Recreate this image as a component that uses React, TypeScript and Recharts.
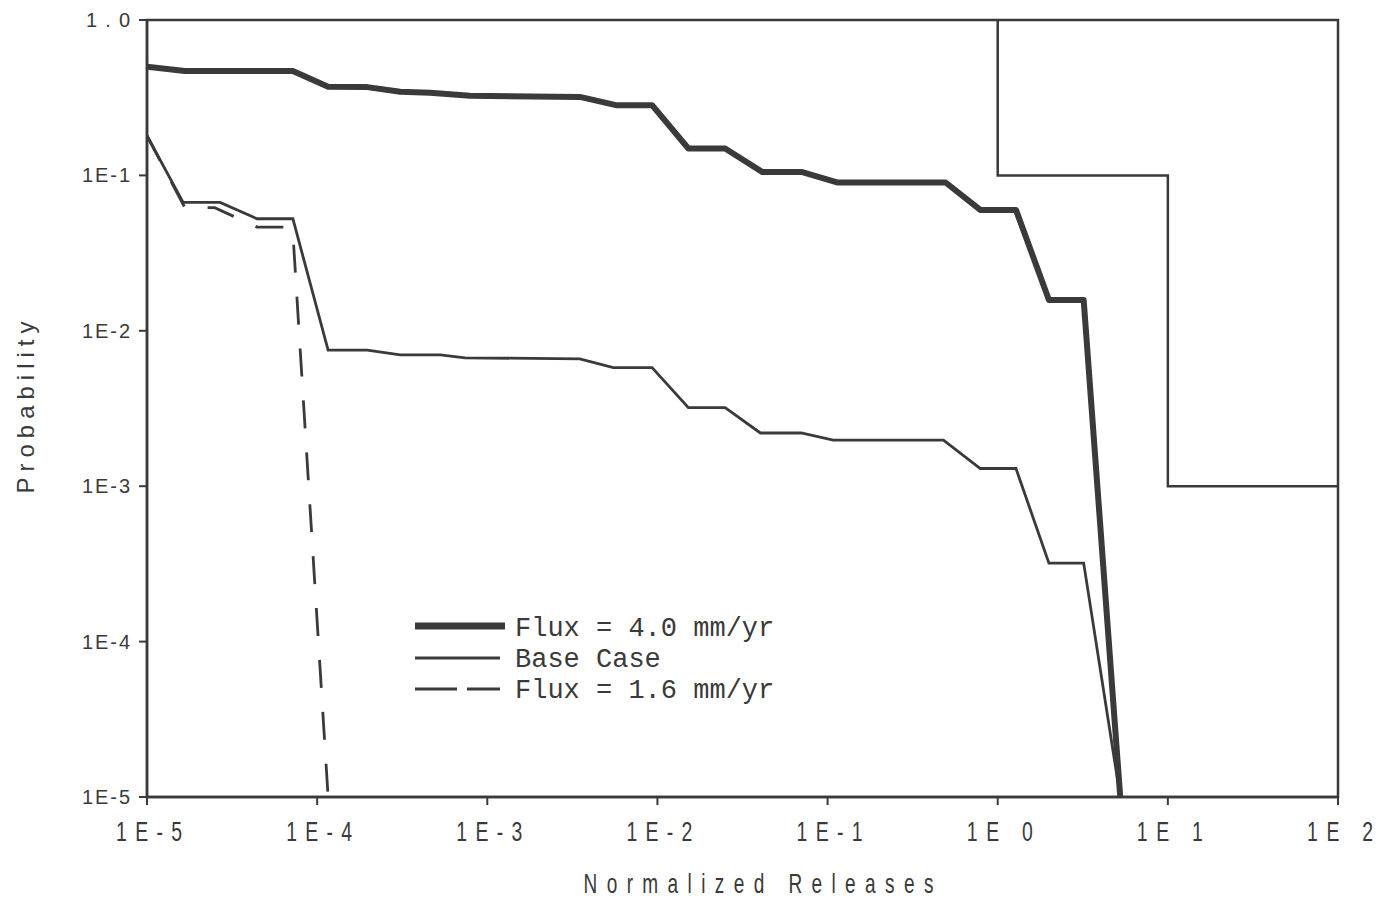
import React from 'react';
import { LineChart, Line, XAxis, YAxis, ReferenceArea, Legend, Label } from 'recharts';

// ---- axis ticks ----
const xTicks = [1e-5, 1e-4, 1e-3, 1e-2, 1e-1, 1, 10, 100];
const xTickLabels = ['1E-5', '1E-4', '1E-3', '1E-2', '1E-1', '1E 0', '1E 1', '1E 2'];
const yTicks = [1e-5, 1e-4, 1e-3, 1e-2, 1e-1, 1];
const yTickLabels = ['1E-5', '1E-4', '1E-3', '1E-2', '1E-1', '1.0'];

// ---- series: Flux = 4.0 mm/yr ----
const flux40Release = [1e-5, 1.67e-5, 7.2e-5, 1.16e-4, 1.97e-4, 3.08e-4, 4.6e-4, 7.9e-4, 3.5e-3, 5.7e-3, 9.3e-3, 1.52e-2, 2.5e-2, 4.15e-2, 7.1e-2, 0.115, 0.494, 0.79, 1.28, 2.0, 3.2, 5.25];
const flux40Prob = [0.5, 0.47, 0.47, 0.372, 0.37, 0.345, 0.34, 0.325, 0.32, 0.283, 0.283, 0.149, 0.149, 0.105, 0.105, 0.09, 0.09, 0.06, 0.06, 0.0158, 0.0158, 1e-5];

// ---- series: Base Case ----
const baseRelease = [1e-5, 1.63e-5, 2.69e-5, 4.43e-5, 7.2e-5, 1.16e-4, 1.97e-4, 3.08e-4, 5.3e-4, 7.4e-4, 3.5e-3, 5.5e-3, 9.3e-3, 1.52e-2, 2.5e-2, 4.03e-2, 7.0e-2, 0.108, 0.48, 0.79, 1.28, 2.0, 3.2, 5.25];
const baseProb = [0.18, 0.067, 0.067, 0.0526, 0.0526, 0.0075, 0.0075, 0.007, 0.007, 0.0067, 0.0066, 0.0058, 0.0058, 0.0032, 0.0032, 0.0022, 0.0022, 0.00198, 0.00198, 0.0013, 0.0013, 0.00032, 0.00032, 1e-5];

// ---- series: Flux = 1.6 mm/yr ----
const flux16Release = [1e-5, 1.67e-5, 2.5e-5, 4.43e-5, 6.67e-5, 7.2e-5, 1.16e-4];
const flux16Prob = [0.18, 0.062, 0.062, 0.0465, 0.0465, 0.043, 1e-5];

// ---- EPA limit step line ----
const limitRelease = [1, 1, 10, 10, 100];
const limitProb = [1, 0.1, 0.1, 0.001, 0.001];

const seriesNames = ['Flux = 4.0 mm/yr', 'Base Case', 'Flux = 1.6 mm/yr'];

const zip = (r: number[], p: number[]) => r.map((x, i) => ({ r: x, p: p[i] }));
const flux40Data = zip(flux40Release, flux40Prob);
const baseData = zip(baseRelease, baseProb);
const flux16Data = zip(flux16Release, flux16Prob);
const limitData = zip(limitRelease, limitProb);

const INK = '#3a3a3a';
const SANS = "'Liberation Sans', Arial, sans-serif";
const MONO = "'Liberation Mono', 'DejaVu Sans Mono', monospace";
const TICK_SCALE = 0.72;
const TITLE_SCALE = 0.68;

const findIdx = (arr: number[], v: number) =>
  arr.findIndex((t) => Math.abs(Math.log10(t) - Math.log10(v)) < 1e-6);

const XTick = (props: any) => {
  const { x, y, payload } = props;
  const i = findIdx(xTicks, payload.value);
  return (
    <text transform={`translate(${x + 2}, ${y + 34}) scale(${TICK_SCALE}, 1)`} x={0} y={0}
      textAnchor="middle" fontFamily={SANS} fontSize={27} fill={INK}
      textLength={66 / TICK_SCALE} lengthAdjust="spacing">
      {xTickLabels[i]}
    </text>
  );
};

const YTick = (props: any) => {
  const { x, y, payload } = props;
  const i = findIdx(yTicks, payload.value);
  const label = yTickLabels[i];
  return (
    <text x={x} y={y + 7} textAnchor="end" fontFamily={SANS} fontSize={20} fill={INK}
      textLength={label.length === 3 ? 44 : 48} lengthAdjust="spacing">
      {label}
    </text>
  );
};

const renderLegend = () => (
  <svg width={400} height={100} style={{ display: 'block' }}>
    <line x1={7} x2={97} y1={18} y2={18} stroke={INK} strokeWidth={7} />
    <text x={107} y={28} fontFamily={MONO} fontSize={27} fill={INK}>{seriesNames[0]}</text>
    <line x1={7} x2={92} y1={50} y2={50} stroke={INK} strokeWidth={3} />
    <text x={107} y={59} fontFamily={MONO} fontSize={27} fill={INK}>{seriesNames[1]}</text>
    <line x1={7} x2={92} y1={81} y2={81} stroke={INK} strokeWidth={3} strokeDasharray="42 10" />
    <text x={107} y={90} fontFamily={MONO} fontSize={27} fill={INK}>{seriesNames[2]}</text>
  </svg>
);

export default function App() {
  return (
    <div style={{ width: 1370, height: 890, background: '#fff' }}>
      <LineChart width={1370} height={890} margin={{ top: 12, right: 40, bottom: 0, left: 0 }}>
        <XAxis
          dataKey="r"
          type="number"
          scale="log"
          domain={[1e-5, 100]}
          ticks={xTicks}
          allowDataOverflow
          height={101}
          tickSize={8}
          tickMargin={2}
          axisLine={{ stroke: INK, strokeWidth: 2.5 }}
          tickLine={{ stroke: INK, strokeWidth: 2 }}
          tick={<XTick />}
        >
          <Label
            content={(p: any) => {
              const vb = p.viewBox;
              const cx = vb.x + vb.width / 2 + 16;
              const cy = vb.y + vb.height - 5;
              return (
                <text transform={`translate(${cx}, ${cy}) scale(${TITLE_SCALE}, 1)`} x={0} y={0}
                  textAnchor="middle" fontFamily={SANS} fontSize={28} fill={INK}
                  textLength={350 / TITLE_SCALE} lengthAdjust="spacing">
                  Normalized Releases
                </text>
              );
            }}
          />
        </XAxis>
        <YAxis
          dataKey="p"
          type="number"
          scale="log"
          domain={[1e-5, 1]}
          ticks={yTicks}
          allowDataOverflow
          width={139}
          tickSize={8}
          tickMargin={9}
          axisLine={{ stroke: INK, strokeWidth: 2.5 }}
          tickLine={{ stroke: INK, strokeWidth: 2 }}
          tick={<YTick />}
        >
          <Label
            content={(p: any) => {
              const vb = p.viewBox;
              const cx = 26;
              const cy = vb.y + vb.height / 2 - 1;
              return (
                <text x={cx} y={cy} transform={`rotate(-90, ${cx}, ${cy})`} textAnchor="middle"
                  fontFamily={SANS} fontSize={24} fill={INK} textLength={172} lengthAdjust="spacing">
                  Probability
                </text>
              );
            }}
          />
        </YAxis>
        <ReferenceArea x1={1e-5} x2={100} y1={1e-5} y2={1} fill="none" stroke={INK} strokeWidth={2.5}
          fillOpacity={0} ifOverflow="visible" />
        <Line data={limitData} dataKey="p" type="linear" stroke={INK} strokeWidth={2.5} dot={false}
          isAnimationActive={false} legendType="none" name="limit" />
        <Line data={baseData} dataKey="p" type="linear" stroke={INK} strokeWidth={2.8} dot={false}
          isAnimationActive={false} name={seriesNames[1]} />
        <Line data={flux16Data} dataKey="p" type="linear" stroke={INK} strokeWidth={2.8} dot={false}
          strokeDasharray="28 24" isAnimationActive={false} name={seriesNames[2]} />
        <Line data={flux40Data} dataKey="p" type="linear" stroke={INK} strokeWidth={6} dot={false}
          strokeLinejoin="round" isAnimationActive={false} name={seriesNames[0]} />
        <Legend
          layout="vertical"
          align="center"
          verticalAlign="middle"
          content={renderLegend}
          wrapperStyle={{ left: 400, top: 600, width: 400, height: 100 }}
        />
      </LineChart>
    </div>
  );
}
